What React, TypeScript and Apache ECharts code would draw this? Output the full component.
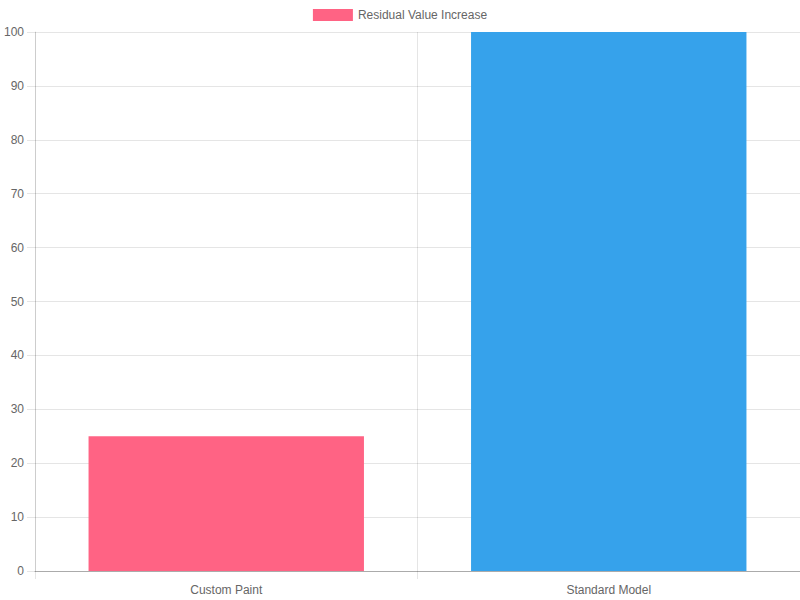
import React, { useEffect, useRef } from "react";
import * as echarts from "echarts";

const categories = ["Custom Paint", "Standard Model"];
const values = [25, 100];
const barColors = ["#FF6384", "#36A2EB"];
const seriesName = "Residual Value Increase";

export default function App() {
  const ref = useRef<HTMLDivElement>(null);
  useEffect(() => {
    if (!ref.current) return;
    const chart = echarts.init(ref.current, null, { renderer: "svg" });
    const font = "'Liberation Sans', Arial, Helvetica, sans-serif";
    chart.setOption({
      animation: false,
      textStyle: { fontFamily: font },
      legend: {
        top: 4,
        left: "center",
        itemWidth: 40,
        itemHeight: 12,
        itemGap: 10,
        icon: "rect",
        textStyle: { color: "#666", fontSize: 12, fontFamily: font },
        data: [seriesName],
      },
      grid: { left: 35, right: 0, top: 32, bottom: 29, containLabel: false },
      xAxis: {
        type: "category",
        data: categories,
        boundaryGap: true,
        axisLine: { show: true, lineStyle: { color: "rgba(0,0,0,0.25)" } },
        axisTick: { show: true, alignWithLabel: false, length: 8, lineStyle: { color: "rgba(0,0,0,0.1)" } },
        splitLine: { show: true, lineStyle: { color: "rgba(0,0,0,0.1)" } },
        axisLabel: { color: "#666", fontSize: 12, margin: 13, fontFamily: font },
      },
      yAxis: {
        type: "value",
        min: 0,
        max: 100,
        interval: 10,
        axisLine: { show: true, lineStyle: { color: "rgba(0,0,0,0.1)" } },
        axisTick: { show: true, length: 8, lineStyle: { color: "rgba(0,0,0,0.1)" } },
        splitLine: { show: true, lineStyle: { color: "rgba(0,0,0,0.1)" } },
        axisLabel: { color: "#666", fontSize: 12, margin: 11, fontFamily: font },
      },
      series: [
        {
          name: seriesName,
          type: "bar",
          barWidth: "72%",
          itemStyle: { color: barColors[0] },
          data: values.map((v, i) => ({ value: v, itemStyle: { color: barColors[i] } })),
        },
      ],
    });
    return () => chart.dispose();
  }, []);
  return (
    <div
      ref={ref}
      style={{ position: "absolute", left: 0, top: 0, width: 800, height: 600, background: "#fff" }}
    />
  );
}
